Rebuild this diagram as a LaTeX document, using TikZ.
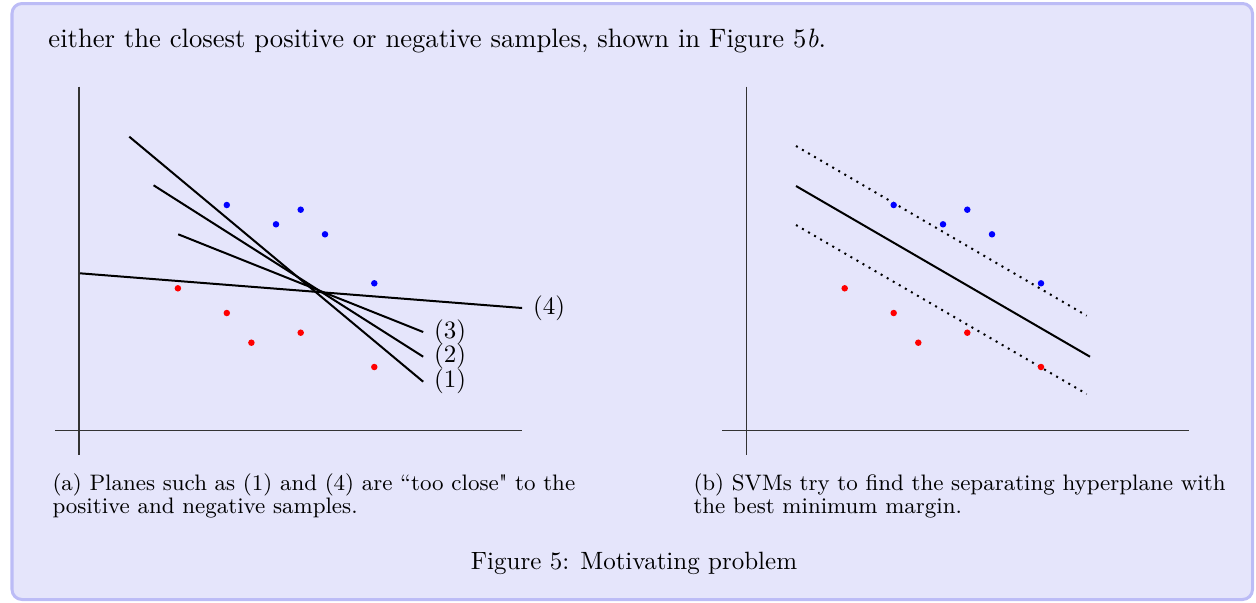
\documentclass[tikz,border=0pt]{standalone}
\usepackage{xcolor}
\usepackage{amsmath}
\usepackage{tikz}
\usetikzlibrary{positioning,calc}
\definecolor{boxfill}{RGB}{229,229,251}
\definecolor{boxrule}{RGB}{188,188,246}

\begin{document}
\begin{tikzpicture}[x=0.4pt,y=-0.4pt,
  axis/.style={black!80, line width=0.5pt},
  plane/.style={line width=0.8pt},
  margin/.style={line width=0.8pt, dotted},
  possample/.style={circle, fill=blue, inner sep=0pt, minimum size=2.6pt},
  negsample/.style={circle, fill=red, inner sep=0pt, minimum size=2.6pt},
  lbl/.style={right, inner sep=4pt, font=\fontsize{10}{12}\selectfont},
  subcap/.style={anchor=north west, inner sep=0pt, align=left, font=\fontsize{8.95}{9.1}\selectfont}]
  \useasboundingbox (0,0) rectangle (1256,602);
  \draw[boxrule, fill=boxfill, line width=1.2pt, rounded corners=4pt]
    (12,3.5) rectangle (1252.5,599.5);

  \node[anchor=base west, inner sep=0pt, font=\fontsize{10.65}{12}\selectfont] (text) at (48,47)
    {either the closest positive or negative samples, shown in Figure 5\textit{b}.};

  % (a) several planes
  \draw[axis] (55,430.7) -- (522,430.7);
  \draw[axis] (79,86.7) -- (79,455);
  \coordinate (a1s) at (129.3,136.7);
  \coordinate (a1e) at (423.2,381.7);
  \coordinate (a2s) at (153.6,185.3);
  \coordinate (a2e) at (423.2,356.7);
  \coordinate (a3s) at (178.2,234.3);
  \coordinate (a3e) at (423.2,332);
  \coordinate (a4s) at (80,273.3);
  \coordinate (a4e) at (522.1,308);
  \draw[plane] (a1s) -- (a1e) node[lbl] (l1) {(1)};
  \draw[plane] (a2s) -- (a2e) node[lbl] (l2) {(2)};
  \draw[plane] (a3s) -- (a3e) node[lbl] (l3) {(3)};
  \draw[plane] (a4s) -- (a4e) node[lbl] (l4) {(4)};
  \node[possample] (ap1) at (226.8,205) {};
  \node[possample] (ap2) at (276,224.3) {};
  \node[possample] (ap3) at (300.7,209.7) {};
  \node[possample] (ap4) at (325,234.3) {};
  \node[possample] (ap5) at (374.3,283.3) {};
  \node[negsample] (an1) at (177.9,288.3) {};
  \node[negsample] (an2) at (226.8,313) {};
  \node[negsample] (an3) at (251.4,342.7) {};
  \node[negsample] (an4) at (300.7,332.7) {};
  \node[negsample] (an5) at (374.3,367) {};

  % (b) best margin
  \draw[axis] (722,430.7) -- (1188.7,430.7);
  \draw[axis] (746.3,86.7) -- (746.3,455);
  \coordinate (bs) at (796,186);
  \coordinate (be) at (1090,356.7);
  \coordinate (bus) at (796,146);
  \coordinate (bue) at (1086.7,315.7);
  \coordinate (bls) at (796,225);
  \coordinate (ble) at (1086.7,394);
  \draw[plane] (bs) -- (be);
  \draw[margin] (bus) -- (bue);
  \draw[margin] (bls) -- (ble);
  \node[possample] (bp1) at (893.7,205) {};
  \node[possample] (bp2) at (943,224.3) {};
  \node[possample] (bp3) at (967.3,209.7) {};
  \node[possample] (bp4) at (992,234.3) {};
  \node[possample] (bp5) at (1041,283.3) {};
  \node[negsample] (bn1) at (844.7,288.3) {};
  \node[negsample] (bn2) at (893.7,313) {};
  \node[negsample] (bn3) at (918.3,342.7) {};
  \node[negsample] (bn4) at (967.3,332.7) {};
  \node[negsample] (bn5) at (1041,367) {};

  \node[subcap] (capa) at (52,473)
    {(a) Planes such as (1) and (4) are ``too close\textquotedbl{} to the\\positive and negative samples.};
  \node[subcap] (capb) at (693,473)
    {(b) SVMs try to find the separating hyperplane with\\the best minimum margin.};
  \node[anchor=base, inner sep=0pt, font=\fontsize{10}{12}\selectfont] (fig) at (634,569)
    {Figure 5: Motivating problem};
\end{tikzpicture}
\end{document}
